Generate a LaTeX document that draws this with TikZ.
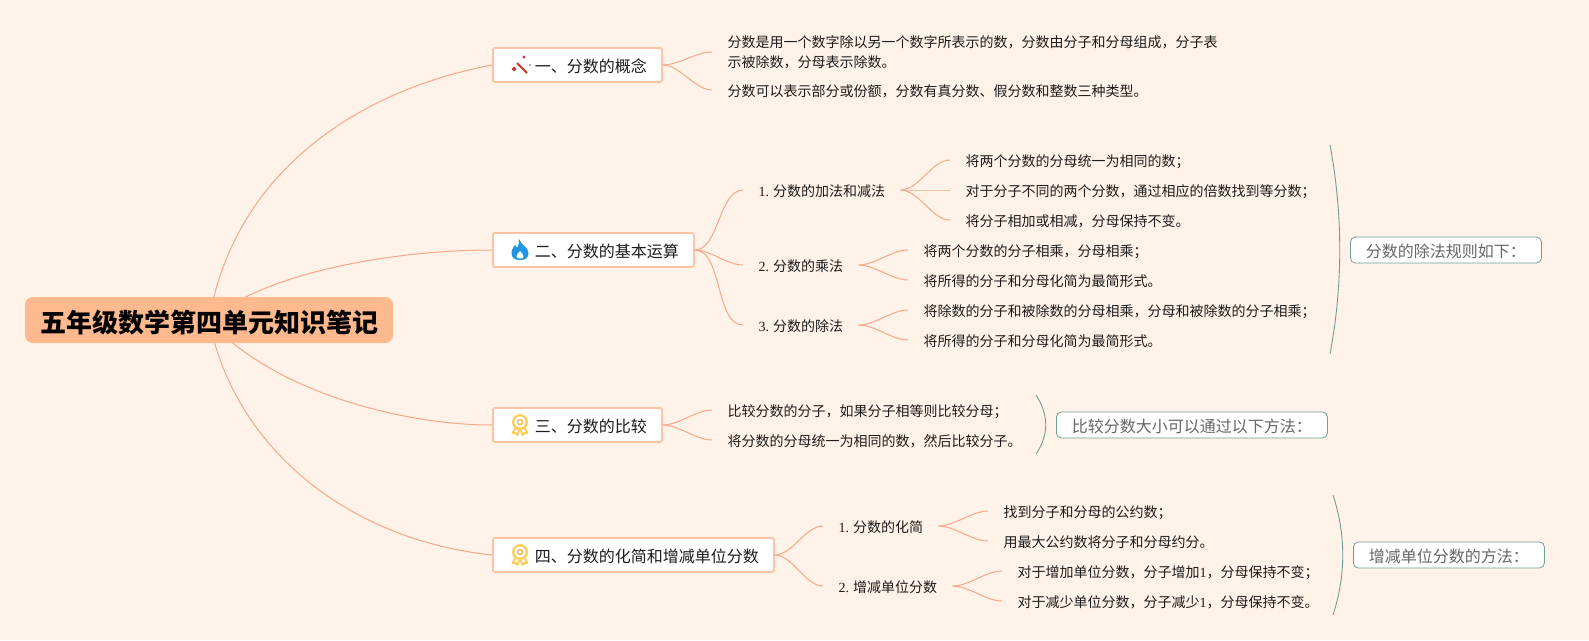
\documentclass[tikz,border=0pt]{standalone}
\usepackage{fontspec}
\setmainfont{Noto Sans CJK SC}
\newfontfamily\numfont{Liberation Serif}
\usetikzlibrary{backgrounds}
\definecolor{MapPaper}{HTML}{FFF2E8}
\definecolor{MapRoot}{HTML}{FFB98F}
\definecolor{MapLine}{HTML}{F7A88A}
\definecolor{MapEdge}{HTML}{FDC3A2}
\definecolor{MapInk}{HTML}{1C1C1C}
\definecolor{NoteGreen}{HTML}{6F9E92}
\definecolor{NoteGrey}{HTML}{666666}
\definecolor{IconRed}{HTML}{C8372D}
\definecolor{IconBlue}{HTML}{2196DE}
\definecolor{IconGold}{HTML}{FFCB52}

% small icons, #1 = centre
\newcommand{\iconwand}[1]{%
  \begin{scope}[shift={(#1)}]
    \draw[IconRed, line width=2pt] (-3,-2) -- (7,8);
    \fill[IconRed] (4,-8) circle (1.6);
    \fill[IconRed] (10,0) circle (0.9);
    \fill[IconRed] (-8.5,4) -- (-6,1.5) -- (-3.5,4) -- (-6,6.5) -- cycle;
  \end{scope}}
\newcommand{\iconflame}[1]{%
  \begin{scope}[shift={(#1)}]
    \fill[IconBlue] (-1,-11) .. controls (1,-5) and (8.5,-3) .. (8.5,3)
      .. controls (8.5,8) and (5,10) .. (0,10)
      .. controls (-5,10) and (-8.5,8) .. (-8.5,3)
      .. controls (-8.5,-1) and (-6,-3) .. (-5,-5)
      .. controls (-4,-3) and (-3,-2) .. (-2.5,-3)
      .. controls (-1,-5) and (-1,-8) .. (-1,-11) -- cycle;
    \fill[white] (0,1) .. controls (1,3) and (3.5,4) .. (3.5,6)
      .. controls (3.5,8) and (2,8.5) .. (0,8.5)
      .. controls (-2,8.5) and (-3.5,8) .. (-3.5,6)
      .. controls (-3.5,4) and (-1,3) .. (0,1) -- cycle;
  \end{scope}}
\newcommand{\iconmedal}[1]{%
  \begin{scope}[shift={(#1)}]
    \draw[IconGold, line width=1.8pt, fill=white, line join=round] (-4,1) -- (-7.5,7) -- (-4.5,7) -- (-2.5,9) -- (-0.5,3);
    \draw[IconGold, line width=1.8pt, fill=white, line join=round] (4,1) -- (7.5,7) -- (4.5,7) -- (2.5,9) -- (0.5,3);
    \draw[IconGold, line width=2.2pt, fill=white] (0,-4) circle (6.8);
    \draw[IconGold!75!brown, line width=1.3pt] (0,-4) circle (2.6);
  \end{scope}}

\begin{document}
\begin{tikzpicture}[
  x=1pt, y=-1pt,
  rootbox/.style={draw=none, fill=MapRoot, rounded corners=8pt, minimum height=46pt,
                  inner xsep=15pt, inner ysep=0pt, text=black,
                  text height=25pt, text depth=1pt,
                  font=\fontsize{26}{30}\selectfont\bfseries},
  topicbox/.style={draw=MapEdge, line width=1.8pt, fill=white, rounded corners=1.5pt,
                   minimum height=34pt, inner xsep=15pt, inner ysep=0pt, text=MapInk,
                   text height=15.5pt, text depth=1pt,
                   font=\fontsize{16}{20}\selectfont, anchor=west},
  leafbase/.style={inner xsep=15.5pt, inner ysep=1pt, text=MapInk, align=left, anchor=west,
               font=\fontsize{14}{20}\selectfont},
  leaf/.style={leafbase, text height=13.6pt, text depth=1pt},
  notebox/.style={draw=NoteGreen, line width=0.8pt, fill=white, rounded corners=5pt,
                  minimum height=26pt, inner xsep=15.5pt, inner ysep=0pt, text=NoteGrey,
                  text height=15pt, text depth=1pt,
                  anchor=west, font=\fontsize{16}{18}\selectfont},
  branch/.style={draw=MapLine, line width=1pt},
  bracket/.style={draw=NoteGreen, line width=0.9pt}
]
  \useasboundingbox (0,0) rectangle (1589,640);

  % Root
  \node[rootbox] (root) at (209,320) {五年级数学第四单元知识笔记};

  % Topics
  \node[topicbox] (t1) at (492,65)  {\hspace*{27pt}一、分数的概念};
  \node[topicbox] (t2) at (492,250) {\hspace*{27pt}二、分数的基本运算};
  \node[topicbox] (t3) at (492,425) {\hspace*{27pt}三、分数的比较};
  \node[topicbox] (t4) at (492,555) {\hspace*{27pt}四、分数的化简和增减单位分数};
  \iconwand{520,65}
  \iconflame{520,250}
  \iconmedal{520,426}
  \iconmedal{520,556}

  % Leaves of topic 1
  \node[leafbase] (a1) at (712,52) {分数是用一个数字除以另一个数字所表示的数，分数由分子和分母组成，分子表\\示被除数，分母表示除数。};
  \node[leaf] (a2) at (712,90) {分数可以表示部分或份额，分数有真分数、假分数和整数三种类型。};

  % Topic 2
  \node[leaf] (b1) at (743,190) {{\numfont 1.}\hspace{3.8pt}分数的加法和减法};
  \node[leaf] (b2) at (743,265) {{\numfont 2.}\hspace{3.8pt}分数的乘法};
  \node[leaf] (b3) at (743,325) {{\numfont 3.}\hspace{3.8pt}分数的除法};
  \node[leaf] (b11) at (950,160) {将两个分数的分母统一为相同的数；};
  \node[leaf] (b12) at (950,190) {对于分子不同的两个分数，通过相应的倍数找到等分数；};
  \node[leaf] (b13) at (950,220) {将分子相加或相减，分母保持不变。};
  \node[leaf] (b21) at (908,250) {将两个分数的分子相乘，分母相乘；};
  \node[leaf] (b22) at (908,280) {将所得的分子和分母化简为最简形式。};
  \node[leaf] (b31) at (908,310) {将除数的分子和被除数的分母相乘，分母和被除数的分子相乘；};
  \node[leaf] (b32) at (908,340) {将所得的分子和分母化简为最简形式。};

  % Topic 3
  \node[leaf] (c1) at (712,410) {比较分数的分子，如果分子相等则比较分母；};
  \node[leaf] (c2) at (712,440) {将分数的分母统一为相同的数，然后比较分子。};

  % Topic 4
  \node[leaf] (d1) at (823,526) {{\numfont 1.}\hspace{3.8pt}分数的化简};
  \node[leaf] (d2) at (823,586) {{\numfont 2.}\hspace{3.8pt}增减单位分数};
  \node[leaf] (d11) at (988,511) {找到分子和分母的公约数；};
  \node[leaf] (d12) at (988,541) {用最大公约数将分子和分母约分。};
  \node[leaf] (d21) at (1002,571) {对于增加单位分数，分子增加{\numfont 1}，分母保持不变；};
  \node[leaf] (d22) at (1002,601) {对于减少单位分数，分子减少{\numfont 1}，分母保持不变。};

  % Summaries
  \node[notebox] (n1) at (1350,250) {分数的除法规则如下：};
  \node[notebox] (n2) at (1056,425) {比较分数大小可以通过以下方法：};
  \node[notebox] (n3) at (1353,555) {增减单位分数的方法：};
  \coordinate (n1top) at (1330,145);
  \coordinate (n1bot) at (1330,354);
  \coordinate (n2top) at (1036,395);
  \coordinate (n2bot) at (1036,454);
  \coordinate (n3top) at (1333,495);
  \coordinate (n3bot) at (1333,615);
  \draw[bracket] (n1top) .. controls (1343,215) and (1343,285) .. (n1bot);
  \draw[bracket] (n2top) .. controls (1049,415) and (1049,435) .. (n2bot);
  \draw[bracket] (n3top) .. controls (1346,535) and (1346,575) .. (n3bot);

  % Connectors, paper first
  \begin{scope}[on background layer]
    \fill[MapPaper] (0,0) rectangle (1589,640);
    \draw[branch] (root.center) .. controls (235,170) and (360,90) .. (t1.west);
    \draw[branch] (root.center) .. controls (270,270) and (400,250) .. (t2.west);
    \draw[branch] (root.center) .. controls (270,390) and (400,425) .. (t3.west);
    \draw[branch] (root.center) .. controls (235,450) and (350,540) .. (t4.west);
  \end{scope}
  \foreach \from/\to in {t1/a1,t1/a2,t2/b1,t2/b2,t2/b3,b1/b11,b1/b12,b1/b13,
                         b2/b21,b2/b22,b3/b31,b3/b32,t3/c1,t3/c2,t4/d1,t4/d2,
                         d1/d11,d1/d12,d2/d21,d2/d22}
    \draw[branch] (\from.east) to[out=0, in=180, looseness=0.8] (\to.west);
\end{tikzpicture}
\end{document}
